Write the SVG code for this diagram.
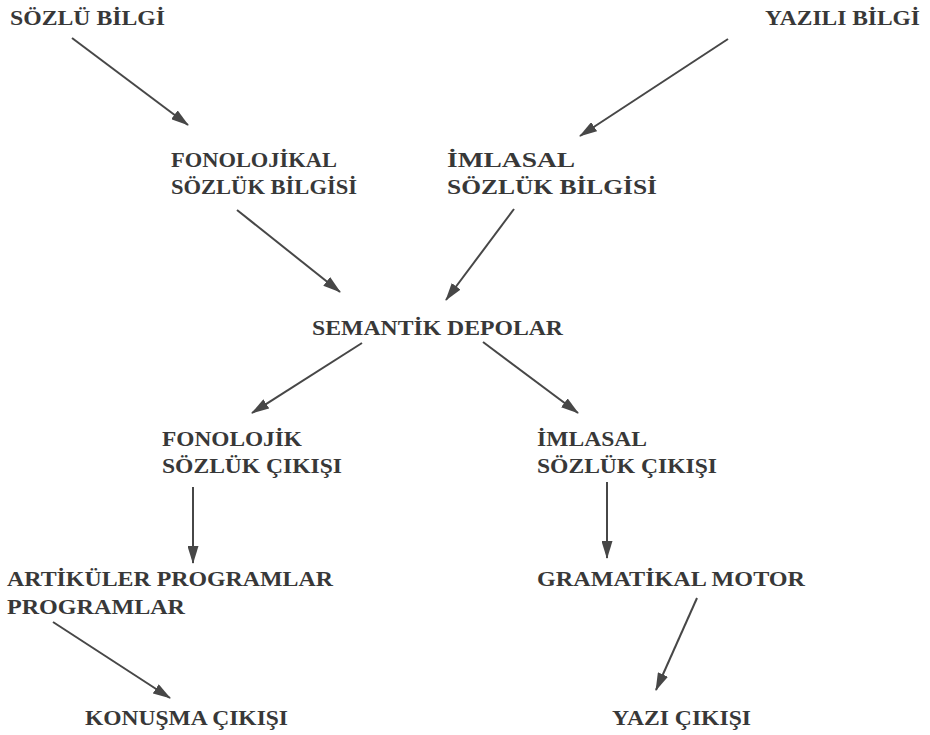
<svg xmlns="http://www.w3.org/2000/svg" width="930" height="735" viewBox="0 0 930 735">
<style>
text{font-family:"Liberation Serif","Times New Roman",serif;font-weight:bold;font-size:21px;fill:#383838}
.c line{stroke:#474747;stroke-width:2;marker-end:url(#ah)}
</style>
<defs>
<marker id="ah" viewBox="0 0 18 11" refX="17" refY="5.5" markerWidth="18" markerHeight="11" markerUnits="userSpaceOnUse" orient="auto">
<path d="M0,0 L18,5.5 L0,11 z" fill="#474747"/>
</marker>
</defs>
<rect width="930" height="735" fill="#ffffff"/>
<g id="sozlu-bilgi"><text x="10" y="25" textLength="155" lengthAdjust="spacingAndGlyphs">SÖZLÜ BİLGİ</text></g>
<g id="yazili-bilgi"><text x="765" y="25" textLength="155" lengthAdjust="spacingAndGlyphs">YAZILI BİLGİ</text></g>
<g id="fonolojikal"><text x="171" y="167" textLength="166" lengthAdjust="spacingAndGlyphs">FONOLOJİKAL</text><text x="171" y="194" textLength="186" lengthAdjust="spacingAndGlyphs">SÖZLÜK BİLGİSİ</text></g>
<g id="imlasal-bilgi"><text x="447" y="167" textLength="128" lengthAdjust="spacingAndGlyphs">İMLASAL</text><text x="447" y="194" textLength="210" lengthAdjust="spacingAndGlyphs">SÖZLÜK BİLGİSİ</text></g>
<g id="semantik"><text x="312" y="335" textLength="251" lengthAdjust="spacingAndGlyphs">SEMANTİK DEPOLAR</text></g>
<g id="fonolojik-cikis"><text x="162" y="446" textLength="140" lengthAdjust="spacingAndGlyphs">FONOLOJİK</text><text x="162" y="473" textLength="180" lengthAdjust="spacingAndGlyphs">SÖZLÜK ÇIKIŞI</text></g>
<g id="imlasal-cikis"><text x="537" y="446" textLength="110" lengthAdjust="spacingAndGlyphs">İMLASAL</text><text x="537" y="473" textLength="180" lengthAdjust="spacingAndGlyphs">SÖZLÜK ÇIKIŞI</text></g>
<g id="artikuler"><text x="7" y="586" textLength="326" lengthAdjust="spacingAndGlyphs">ARTİKÜLER PROGRAMLAR</text><text x="7" y="614" textLength="178" lengthAdjust="spacingAndGlyphs">PROGRAMLAR</text></g>
<g id="gramatikal"><text x="537" y="586" textLength="268" lengthAdjust="spacingAndGlyphs">GRAMATİKAL MOTOR</text></g>
<g id="konusma"><text x="85" y="725" textLength="203" lengthAdjust="spacingAndGlyphs">KONUŞMA ÇIKIŞI</text></g>
<g id="yazi"><text x="612" y="725" textLength="139" lengthAdjust="spacingAndGlyphs">YAZI ÇIKIŞI</text></g>
<g id="connectors" class="c">
<line x1="72" y1="38" x2="188" y2="125"/>
<line x1="728" y1="39" x2="580" y2="136"/>
<line x1="237" y1="210" x2="340" y2="292"/>
<line x1="514" y1="209" x2="446" y2="300"/>
<line x1="362" y1="343" x2="252" y2="413"/>
<line x1="483" y1="342" x2="578" y2="413"/>
<line x1="193" y1="487" x2="193" y2="563"/>
<line x1="607" y1="482" x2="607" y2="558"/>
<line x1="53" y1="622" x2="170" y2="698"/>
<line x1="697" y1="598" x2="656" y2="690"/>
</g>
</svg>
